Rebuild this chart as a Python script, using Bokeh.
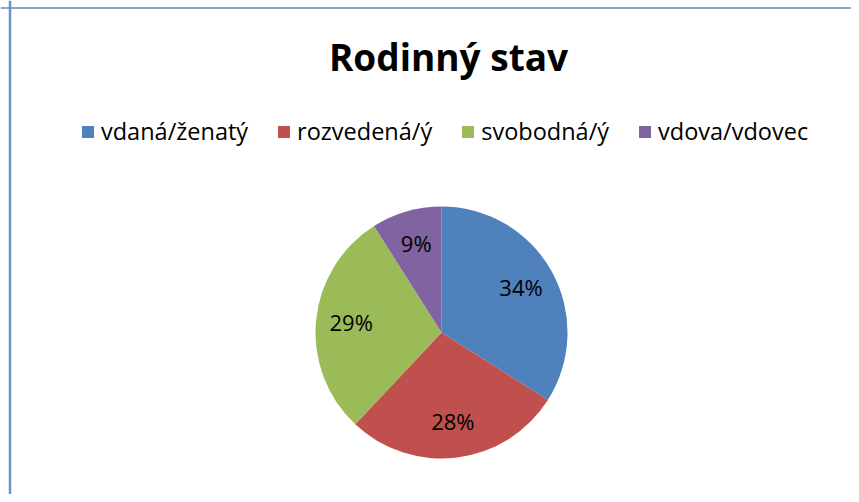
import math
from bokeh.plotting import figure
from bokeh.models import Range1d, Span, Legend, LegendItem, ColumnDataSource
from bokeh.core.properties import value
from bokeh.embed import file_html
from bokeh.resources import INLINE

# ---- data ----
title_text = "Rodinný stav"
categories = ["vdaná/ženatý", "rozvedená/ý", "svobodná/ý", "vdova/vdovec"]
values = [34, 28, 29, 9]
colors = ["#4F81BD", "#C0504D", "#9BBB59", "#8064A2"]

# ---- layout (pixel-like data space, y measured upward) ----
W, H = 851, 494
cx, cy, r = 441, H - 332, 126
label_frac = 0.72

total = float(sum(values))
starts, ends, lx, ly, labels = [], [], [], [], []
acc = 0.0
for v in values:
    f0 = acc / total
    f1 = (acc + v) / total
    acc += v
    starts.append(math.pi / 2 - f0 * 2 * math.pi)
    ends.append(math.pi / 2 - f1 * 2 * math.pi)
    mid = math.pi / 2 - (f0 + f1) / 2 * 2 * math.pi
    lx.append(cx + label_frac * r * math.cos(mid))
    ly.append(cy + label_frac * r * math.sin(mid) + 2)
    labels.append(f"{round(v / total * 100)}%")

src = ColumnDataSource(dict(cat=categories, start=starts, end=ends, color=colors,
                            lx=lx, ly=ly, lab=labels))

p = figure(width=W, height=H, output_backend="svg", toolbar_location=None,
           x_range=Range1d(0, W), y_range=Range1d(0, H),
           min_border=0, min_border_left=0, min_border_right=0,
           min_border_top=0, min_border_bottom=0)
p.xaxis.visible = False
p.yaxis.visible = False
p.grid.visible = False
p.outline_line_color = None
p.background_fill_color = "white"
p.border_fill_color = "white"

wedges = p.wedge(x=cx, y=cy, radius=r, start_angle="start", end_angle="end",
                 direction="clock", fill_color="color", line_color=None, source=src)

p.text(x="lx", y="ly", text="lab", source=src, text_align="center",
       text_baseline="middle", text_font=value("Open Sans"),
       text_font_size="22px", text_color="black")

p.text(x=[448], y=[H - 56], text=[title_text], text_align="center",
       text_baseline="alphabetic", text_font=value("Open Sans"),
       text_font_style="bold", text_font_size="37px", text_color="black")

items = [LegendItem(label=c, renderers=[wedges], index=i) for i, c in enumerate(categories)]
legend = Legend(items=items, orientation="horizontal", location=(80, H - 147),
                glyph_width=15, glyph_height=15, label_standoff=6, spacing=28,
                padding=0, margin=0, border_line_color=None,
                background_fill_alpha=0, label_text_font="Open Sans",
                label_text_font_size="23.5px", label_text_color="black")
p.add_layout(legend)

# chart frame edges (left and top visible)
p.add_layout(Span(location=9.5, dimension="height", line_color="#6C93C9", line_width=2.5))
p.add_layout(Span(location=H - 7.5, dimension="width", line_color="#5E88C2", line_width=1.5))

open("out.html", "w").write(file_html(p, INLINE))
